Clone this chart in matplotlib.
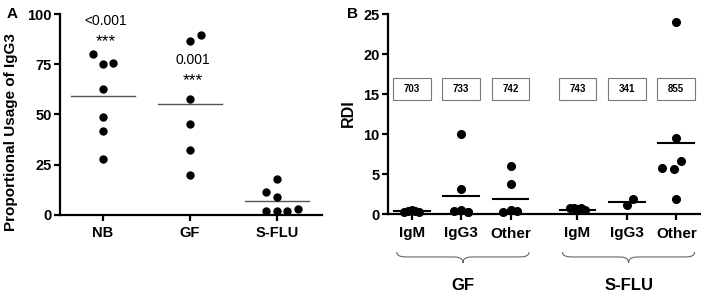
import matplotlib
matplotlib.use("Agg")
import matplotlib.pyplot as plt
from matplotlib.patches import Rectangle, PathPatch
from matplotlib.path import Path
import matplotlib.transforms as mtransforms
import numpy as np

plt.rcParams['font.family'] = ['Liberation Sans', 'DejaVu Sans']
plt.rcParams['font.weight'] = 'bold'

# ---------------- Panel A data ----------------
a_categories = ["NB", "GF", "S-FLU"]
a_nb = [80, 75, 75.5, 62.5, 49, 42, 28]
a_nb_off = [-0.12, 0.0, 0.12, 0.0, 0.0, 0.0, 0.0]
a_gf = [86.5, 89.5, 57.5, 45.5, 32.5, 20]
a_gf_off = [0.0, 0.13, 0.0, 0.0, 0.0, 0.0]
a_sflu = [18, 11.5, 9, 2.2, 2.2, 2.2, 2.8]
a_sflu_off = [0.0, -0.12, 0.0, -0.12, 0.0, 0.12, 0.24]
a_means = [59, 55, 6.8]
a_pvals = ["<0.001", "0.001"]
a_pval_y = [96.5, 77]
a_yticks = [0, 25, 50, 75, 100]

# ---------------- Panel B data ----------------
b_categories = ["IgM", "IgG3", "Other", "IgM", "IgG3", "Other"]
b_groups = ["GF", "S-FLU"]
b_gf_igm = [0.25, 0.4, 0.5, 0.35, 0.3]
b_gf_igm_off = [-0.15, -0.07, 0.0, 0.07, 0.15]
b_gf_igg3 = [10, 3.1, 0.4, 0.5, 0.3, 0.2]
b_gf_igg3_off = [0.0, 0.0, -0.15, 0.0, 0.13, 0.13]
b_gf_other = [6.0, 3.8, 0.3, 0.5, 0.4]
b_gf_other_off = [0.0, 0.0, -0.15, 0.0, 0.12]
b_sf_igm = [0.7, 0.8, 0.6, 0.7, 0.5]
b_sf_igm_off = [-0.15, -0.07, 0.0, 0.07, 0.15]
b_sf_igg3 = [1.1, 1.9]
b_sf_igg3_off = [0.0, 0.13]
b_sf_other = [24, 9.5, 5.7, 5.6, 6.6, 1.9]
b_sf_other_off = [0.0, 0.0, -0.28, -0.05, 0.1, 0.0]
b_means = [0.35, 2.3, 1.9, 0.5, 1.5, 8.9]
b_box_labels = ["703", "733", "742", "743", "341", "855"]
b_box_y = 15.6
b_yticks = [0, 5, 10, 15, 20, 25]

W, H = 701, 298
fig = plt.figure(figsize=(W / 100, H / 100), dpi=100)

def fx(px):
    return px / W

def fy(py):
    return 1 - py / H

def style_axes(ax, xticks, xlabels, yticks, xsize, xpad):
    for s in ("top", "right"):
        ax.spines[s].set_visible(False)
    for s in ("left", "bottom"):
        ax.spines[s].set_linewidth(1.6)
        ax.spines[s].set_color("black")
    ax.set_xticks(xticks)
    ax.set_xticklabels(xlabels, fontsize=xsize, fontweight="bold")
    ax.set_yticks(yticks)
    ax.set_yticklabels([str(t) for t in yticks], fontsize=10.5,
                       fontweight="bold")
    ax.tick_params(axis="both", direction="out", length=4, width=1.6)
    ax.tick_params(axis="y", pad=2)
    ax.tick_params(axis="x", pad=xpad)

# ---------------- Panel A ----------------
axA = fig.add_axes([fx(60), fy(215), fx(322) - fx(60), fy(14) - fy(215)])
posA = [1, 2, 3]
groupsA = [(a_nb, a_nb_off), (a_gf, a_gf_off), (a_sflu, a_sflu_off)]
for p, (vals, offs), m in zip(posA, groupsA, a_means):
    axA.plot(np.array(offs) + p, vals, "o", color="black", markersize=5,
             clip_on=False, zorder=3)
    axA.plot([p - 0.37, p + 0.37], [m, m], color="#555555", lw=1.0, zorder=2)
for p, txt, y in zip(posA[:2], a_pvals, a_pval_y):
    axA.text(p + 0.03, y, txt, ha="center", va="center", fontsize=10,
             fontweight="normal")
    axA.text(p + 0.03, y - 10, "***", ha="center", va="center", fontsize=12.5,
             fontweight="normal")
axA.set_xlim(0.506, 3.52)
axA.set_ylim(0, 100)
style_axes(axA, posA, a_categories, a_yticks, 10.5, 4)
fig.text(fx(11), fy(132), "Proportional Usage of IgG3", rotation=90,
         ha="center", va="center", fontsize=11, fontweight="bold")
fig.text(fx(12), fy(14), "A", ha="center", va="center", fontsize=11,
         fontweight="bold")

# ---------------- Panel B ----------------
axB = fig.add_axes([fx(388), fy(214), fx(701) - fx(388), fy(14) - fy(214)])
posB = [0, 1, 2, 3.35, 4.35, 5.35]
groupsB = [(b_gf_igm, b_gf_igm_off), (b_gf_igg3, b_gf_igg3_off),
           (b_gf_other, b_gf_other_off), (b_sf_igm, b_sf_igm_off),
           (b_sf_igg3, b_sf_igg3_off), (b_sf_other, b_sf_other_off)]
for p, (vals, offs), m, lab in zip(posB, groupsB, b_means, b_box_labels):
    axB.plot(np.array(offs) + p, vals, "o", color="black", markersize=5.5,
             clip_on=False, zorder=3)
    axB.plot([p - 0.36, p + 0.36], [m, m], color="black", lw=1.5, zorder=2)
    axB.add_patch(Rectangle((p - 0.38, b_box_y - 1.35), 0.76, 2.7,
                            facecolor="white", edgecolor="#777777", lw=0.8,
                            zorder=4))
    axB.text(p, b_box_y, lab, ha="center", va="center", fontsize=7,
             fontweight="bold", zorder=5)
axB.set_xlim(-0.48, 5.85)
axB.set_ylim(0, 25)
style_axes(axB, posB, b_categories, b_yticks, 11, 5)
fig.text(fx(348), fy(113), "RDI", rotation=90, ha="center", va="center",
         fontsize=11.5, fontweight="bold")
fig.text(fx(352), fy(14), "B", ha="center", va="center", fontsize=11,
         fontweight="bold")

# braces under groups
trans = mtransforms.blended_transform_factory(axB.transData, axB.transAxes)

def brace(ax, x0, x1, ytop, ytip):
    xc = (x0 + x1) / 2
    ym = ytop - (ytop - ytip) * 0.45
    d = 0.12
    verts = [(x0, ytop), (x0, ym), (x0 + d, ym), (x0 + 2 * d, ym),
             (xc - 2 * d, ym),
             (xc - d, ym), (xc, ym), (xc, ytip),
             (xc, ym), (xc + d, ym), (xc + 2 * d, ym),
             (x1 - 2 * d, ym),
             (x1 - d, ym), (x1, ym), (x1, ytop)]
    codes = [Path.MOVETO, Path.CURVE4, Path.CURVE4, Path.CURVE4,
             Path.LINETO,
             Path.CURVE4, Path.CURVE4, Path.CURVE4,
             Path.CURVE4, Path.CURVE4, Path.CURVE4,
             Path.LINETO,
             Path.CURVE4, Path.CURVE4, Path.CURVE4]
    patch = PathPatch(Path(verts, codes), facecolor="none",
                      edgecolor="#666666", lw=0.8, transform=trans,
                      clip_on=False)
    ax.add_patch(patch)

for g, (i0, i1) in zip(b_groups, [(0, 2), (3, 5)]):
    x0, x1 = posB[i0] - 0.3, posB[i1] + 0.37
    brace(axB, x0, x1, -0.19, -0.245)
    axB.text((x0 + x1) / 2, -0.355, g, transform=trans, ha="center",
             va="center", fontsize=12, fontweight="bold")

fig.savefig("out.png", dpi=100)
